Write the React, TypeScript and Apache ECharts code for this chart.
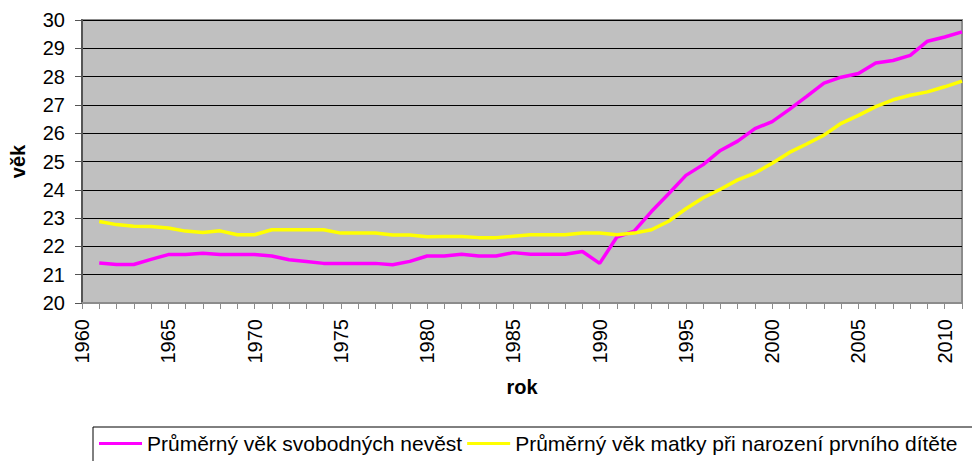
import React, { useEffect, useRef } from "react";
import * as echarts from "echarts";

const years = [
  1961, 1962, 1963, 1964, 1965, 1966, 1967, 1968, 1969, 1970,
  1971, 1972, 1973, 1974, 1975, 1976, 1977, 1978, 1979, 1980,
  1981, 1982, 1983, 1984, 1985, 1986, 1987, 1988, 1989, 1990,
  1991, 1992, 1993, 1994, 1995, 1996, 1997, 1998, 1999, 2000,
  2001, 2002, 2003, 2004, 2005, 2006, 2007, 2008, 2009, 2010, 2011,
];

const brideAge = [
  21.41, 21.36, 21.36, 21.54, 21.71, 21.71, 21.76, 21.71, 21.71, 21.71,
  21.66, 21.53, 21.47, 21.40, 21.40, 21.40, 21.40, 21.35, 21.47, 21.66,
  21.66, 21.72, 21.66, 21.66, 21.78, 21.72, 21.72, 21.72, 21.82, 21.40,
  22.33, 22.54, 23.23, 23.86, 24.51, 24.89, 25.39, 25.72, 26.16, 26.41,
  26.84, 27.30, 27.77, 27.98, 28.11, 28.48, 28.57, 28.75, 29.25, 29.40, 29.58,
];

const motherAge = [
  22.88, 22.77, 22.71, 22.70, 22.65, 22.54, 22.49, 22.55, 22.41, 22.41,
  22.59, 22.59, 22.59, 22.59, 22.47, 22.47, 22.47, 22.40, 22.40, 22.34,
  22.35, 22.35, 22.31, 22.31, 22.36, 22.41, 22.41, 22.41, 22.47, 22.47,
  22.41, 22.47, 22.59, 22.89, 23.33, 23.72, 24.02, 24.35, 24.59, 24.94,
  25.32, 25.62, 25.93, 26.35, 26.63, 26.94, 27.18, 27.34, 27.46, 27.64, 27.84,
];

const seriesNames = [
  "Průměrný věk svobodných nevěst",
  "Průměrný věk matky při narození prvního dítěte",
];

const xAxisName = "rok";
const yAxisName = "věk";

const FONT = "'Liberation Sans', Arial, sans-serif";

export default function App() {
  const ref = useRef<HTMLDivElement>(null);

  useEffect(() => {
    if (!ref.current) return;
    const chart = echarts.init(ref.current, undefined, { renderer: "svg" });
    const toPairs = (vals: number[]) => years.map((y, i) => [y, vals[i]]);
    chart.setOption({
      animation: false,
      backgroundColor: "#ffffff",
      textStyle: { fontFamily: FONT },
      grid: {
        left: 80,
        right: 10,
        top: 20,
        bottom: 158,
        show: true,
        backgroundColor: "#C0C0C0",
        borderColor: "#8c8c8c",
        borderWidth: 2,
      },
      xAxis: {
        type: "value",
        min: 1960,
        max: 2011,
        interval: 1,
        name: xAxisName,
        nameLocation: "middle",
        nameGap: 74,
        nameTextStyle: { fontFamily: FONT, fontSize: 20, fontWeight: "bold", color: "#000" },
        axisLine: { show: true, lineStyle: { color: "#8c8c8c", width: 2 } },
        axisTick: { show: true, length: 6, lineStyle: { color: "#8c8c8c", width: 1 } },
        axisLabel: {
          rotate: 90,
          margin: 16,
          fontFamily: FONT,
          fontSize: 20,
          color: "#000",
          formatter: (v: number) => (v % 5 === 0 ? String(v) : ""),
        },
        splitLine: { show: false },
      },
      yAxis: {
        type: "value",
        min: 20,
        max: 30,
        interval: 1,
        name: yAxisName,
        nameLocation: "middle",
        nameGap: 54,
        nameTextStyle: { fontFamily: FONT, fontSize: 20, fontWeight: "bold", color: "#000" },
        axisLine: { show: true, lineStyle: { color: "#555555", width: 2 } },
        axisTick: { show: true, length: 7, lineStyle: { color: "#555555", width: 1 } },
        axisLabel: { margin: 17, fontFamily: FONT, fontSize: 20, color: "#000" },
        splitLine: { show: true, lineStyle: { color: "#000000", width: 1 } },
      },
      legend: {
        left: 93,
        top: 427,
        width: 1200,
        padding: [6, 40, 20, 6],
        itemGap: 5,
        itemWidth: 43,
        itemHeight: 3,
        icon: "rect",
        borderColor: "#000",
        borderWidth: 1,
        textStyle: { fontFamily: FONT, fontSize: 21, color: "#000" },
        data: seriesNames,
      },
      series: [
        {
          name: seriesNames[0],
          type: "line",
          data: toPairs(brideAge),
          symbol: "none",
          lineStyle: { color: "#FF00FF", width: 3.5 },
          itemStyle: { color: "#FF00FF" },
        },
        {
          name: seriesNames[1],
          type: "line",
          data: toPairs(motherAge),
          symbol: "none",
          lineStyle: { color: "#FFFF00", width: 3.5 },
          itemStyle: { color: "#FFFF00" },
        },
      ],
    });
    return () => chart.dispose();
  }, []);

  return (
    <div
      ref={ref}
      style={{ position: "absolute", left: 0, top: 0, width: 972, height: 461, overflow: "hidden" }}
    />
  );
}
